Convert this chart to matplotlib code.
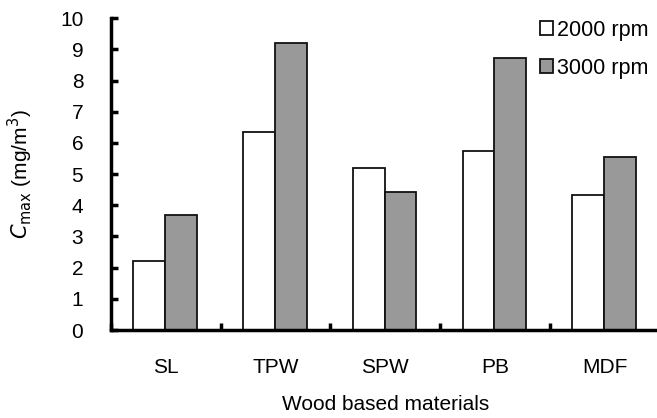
import matplotlib
matplotlib.use("Agg")
import matplotlib.pyplot as plt
import numpy as np
from matplotlib.ticker import FixedLocator

categories = ["SL", "TPW", "SPW", "PB", "MDF"]
rpm2000 = [2.2, 6.35, 5.2, 5.75, 4.32]
rpm3000 = [3.7, 9.22, 4.42, 8.72, 5.56]
series_labels = ["2000 rpm", "3000 rpm"]
yticks = list(range(0, 11))

plt.rcParams['font.family'] = ['Liberation Sans', 'DejaVu Sans']
fig = plt.figure(figsize=(6.57, 4.18), dpi=100)
ax = fig.add_axes([0.169, 0.2105, 0.835, 0.746])

x = np.arange(len(categories))
w = 0.29
ax.bar(x - w/2 - 0.006, rpm2000, width=w, color="white", edgecolor="#111111", linewidth=1.3, label=series_labels[0], zorder=2)
ax.bar(x + w/2 - 0.006, rpm3000, width=w, color="#999999", edgecolor="#111111", linewidth=1.3, label=series_labels[1], zorder=2)

ax.set_xlim(-0.5, len(categories) - 0.5)
ax.set_ylim(0, 10)
ax.set_yticks(yticks)
ax.set_xticks(x)
ax.set_xticklabels(categories)
ax.xaxis.set_minor_locator(FixedLocator(np.arange(-0.5, len(categories), 1.0)))
ax.tick_params(axis='x', which='major', length=0, pad=20, labelsize=15)
ax.tick_params(axis='x', which='minor', direction='in', length=5, width=2.5)
ax.tick_params(axis='y', direction='in', length=5, width=2.5, labelsize=15, pad=20)

for s in ['top', 'right']:
    ax.spines[s].set_visible(False)
for s in ['left', 'bottom']:
    ax.spines[s].set_linewidth(2.5)

ax.set_xlabel("Wood based materials", fontsize=15, labelpad=13)
ax.set_ylabel(r"$C_{\rm max}$ (mg/m$^3$)", fontsize=15, labelpad=18)

leg = ax.legend(loc='upper right', bbox_to_anchor=(1.0, 1.03), frameon=False, fontsize=15.5,
                handlelength=0.6, handleheight=0.6, handletextpad=0.2, labelspacing=0.8, borderaxespad=0.1)

fig.savefig("out.png", dpi=100)
